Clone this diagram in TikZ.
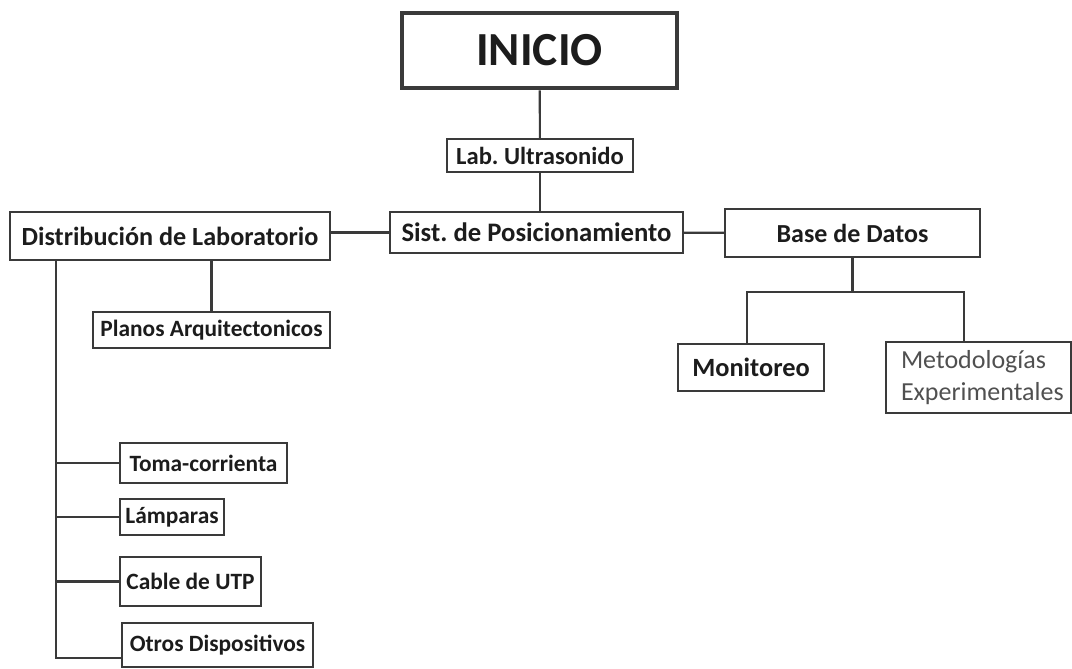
\documentclass[tikz,border=0pt]{standalone}
\usepackage{fontspec}
\setmainfont{Carlito}
\usetikzlibrary{positioning}
\definecolor{inkline}{HTML}{3A3A3A}
\definecolor{inktext}{HTML}{1C1C1C}
\definecolor{softtext}{HTML}{505050}
\frenchspacing
\tikzset{
  item/.style={draw=inkline, line width=1.1pt, rectangle, inner sep=2pt, text=inktext, font=\bfseries\fontsize{13.3}{15}\selectfont},
  start/.style={item, line width=2.8pt, font=\bfseries\fontsize{27}{31}\selectfont},
  link/.style={draw=inkline, line width=1.2pt}
}

\begin{document}
\begin{tikzpicture}
    \useasboundingbox (0,0) rectangle (21.44,13.36);

    % upper chain
    \node[start, minimum width=5.5cm, minimum height=1.5cm] (inicio) at (10.79,12.35) {INICIO};
    \node[item, minimum width=3.72cm, minimum height=0.66cm, font=\bfseries\fontsize{14}{16}\selectfont] (lab) at (10.8,10.25) {Lab. Ultrasonido};
    \node[item, minimum width=5.86cm, minimum height=0.82cm, font=\bfseries\fontsize{15.2}{17}\selectfont] (sist) at (10.73,8.71) {Sist. de Posicionamiento};
    \node[item, minimum width=6.4cm, minimum height=0.96cm, font=\bfseries\fontsize{14.9}{17}\selectfont] (distrib) at (3.4,8.64) {Distribución de Laboratorio};
    \node[item, minimum width=5.1cm, minimum height=0.96cm, font=\bfseries\fontsize{14.8}{17}\selectfont] (base) at (17.05,8.7) {Base de Datos};

    % branches
    \node[item, minimum width=4.74cm, minimum height=0.72cm] (planos) at (4.23,6.76) {Planos Arquitectonicos};
    \node[item, minimum width=2.92cm, minimum height=0.94cm, font=\bfseries\fontsize{15}{17}\selectfont] (monit) at (15.02,6.01) {Monitoreo};
    \node[item, text width=3.1cm, inner xsep=0.3cm, minimum height=1.42cm, align=left, text=softtext, font=\fontsize{14.8}{17.8}\selectfont] (metod) at (19.57,5.81) {Metodologías\\Experimentales};

    \node[item, minimum width=3.34cm, minimum height=0.8cm] (toma) at (4.07,4.1) {Toma-corrienta};
    \node[item, minimum width=2.08cm, minimum height=0.72cm] (lamp) at (3.44,3.02) {Lámparas};
    \node[item, minimum width=2.82cm, minimum height=0.98cm] (cable) at (3.81,1.73) {Cable de UTP};
    \node[item, minimum width=3.82cm, minimum height=0.88cm] (otros) at (4.35,0.46) {Otros Dispositivos};

    \coordinate (trunk) at (1.12,0.2);

    \draw[link] (inicio) -- (lab);
    \draw[link] (lab) -- (lab |- sist.north);
    \draw[link] (distrib.east |- sist) -- (sist);
    \draw[link] (sist) -- (base);

    \draw[link] (planos) -- (planos |- distrib.south);

    \draw[link] (base.south) -- ++(0,-0.68) coordinate (bar);
    \draw[link] ([xshift=-0.08cm]monit.north) |- (bar) -| ([xshift=-0.29cm]metod.north);

    \draw[link] (distrib.south -| trunk) -- (trunk) -- (otros.west |- trunk);
    \draw[link] (trunk |- toma) -- (toma);
    \draw[link] (trunk |- lamp) -- (lamp);
    \draw[link] (trunk |- cable) -- (cable);
\end{tikzpicture}
\end{document}
